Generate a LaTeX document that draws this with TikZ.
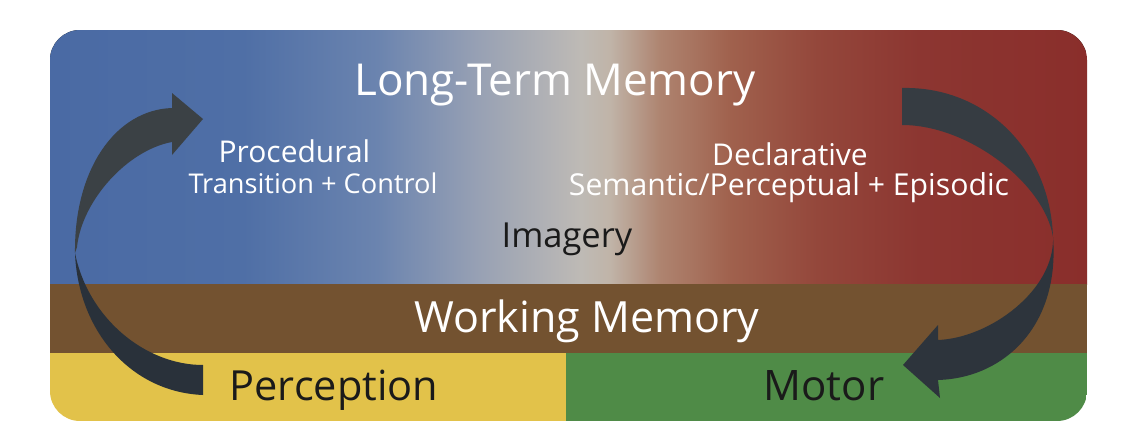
\documentclass[tikz,border=0pt]{standalone}
\usepackage{fontspec}
\setmainfont{Open Sans}
\definecolor{cB}{HTML}{4A6AA4}
\definecolor{cB2}{HTML}{4F6FA6}
\definecolor{cB3}{HTML}{6B84AF}
\definecolor{cB4}{HTML}{98A1B4}
\definecolor{cG}{HTML}{BEBAB5}
\definecolor{cG2}{HTML}{C0B4A8}
\definecolor{cR1}{HTML}{AE8470}
\definecolor{cR2}{HTML}{A0614D}
\definecolor{cR3}{HTML}{94473B}
\definecolor{cR4}{HTML}{8C3631}
\definecolor{cR}{HTML}{8A2E2B}
\definecolor{wmbrown}{HTML}{735230}
\definecolor{percy}{HTML}{E2C24A}
\definecolor{motg}{HTML}{4F8B47}
\definecolor{arrA}{HTML}{3B4145}
\definecolor{arrB}{HTML}{29313A}
\definecolor{txtdark}{HTML}{1A1A1A}
\pgfdeclarehorizontalshading{ltm}{100bp}{color(0bp)=(cB); color(25bp)=(cB); color(34.3bp)=(cB2); color(40.8bp)=(cB3); color(45.7bp)=(cB4); color(50.6bp)=(cG); color(52bp)=(cG2); color(54.4bp)=(cR1); color(57.8bp)=(cR2); color(62bp)=(cR3); color(66.9bp)=(cR4); color(75bp)=(cR); color(100bp)=(cR)}
\tikzset{
  lbl/.style={inner sep=0pt, anchor=base},
  fs/.style={font=\fontsize{#1}{#1}\selectfont},
}
\begin{document}
\begin{tikzpicture}[x=1pt,y=-1pt]
\fill[white] (0,0) rectangle (1136,447);
\useasboundingbox (0,0) rectangle (1136,447);
\begin{scope}
\clip[rounded corners=30pt] (50,30) rectangle (1087,421);
\fill[shading=ltm] (50,30) rectangle (1087,284.5);
\fill[wmbrown] (50,284) rectangle (1087,353);
\fill[percy] (50,353) rectangle (566,421);
\fill[motg] (566,353) rectangle (1087,421);
\end{scope}
% texts
\node[lbl, white, fs=44] (ltm) at (555,95) {Long-Term Memory};
\node[lbl, white, fs=30] (proc) at (294.5,162) {Procedural};
\node[lbl, white, fs=27.2] (trans) at (313,193) {Transition + Control};
\node[lbl, white, fs=30] (decl) at (790,165) {Declarative};
\node[lbl, white, fs=30.2] (sem) at (789,195) {Semantic/Perceptual + Episodic};
\node[lbl, txtdark, fs=34.5] (img) at (567,247) {Imagery};
\node[lbl, white, fs=43] (wm) at (587,332) {Working Memory};
\node[lbl, txtdark, fs=41.5] (perc) at (334,400) {Perception};
\node[lbl, txtdark, fs=42] (mot) at (824,400) {Motor};
% left arrow, upper part with head
\fill[arrA] (75,253) .. controls (74,170) and (115,110) .. (172,108)
  -- (172,93) -- (203,119) -- (172,155) -- (172,142)
  .. controls (128,150) and (82,200) .. (77,247) -- cycle;
% left arrow, lower part with tail
\fill[arrB] (75,253) .. controls (78,330) and (130,392) .. (203,395)
  -- (203,365) .. controls (145,365) and (88,318) .. (75,253) -- cycle;
% right arrow, upper part with tail
\fill[arrA!70!arrB] (902,88) .. controls (985,86) and (1050,150) .. (1053,237)
  .. controls (1045,185) and (970,125) .. (902,125) -- cycle;
% right arrow, lower part with head
\fill[arrB!80!arrA] (1053,237) .. controls (1055,290) and (990,338) .. (938,340)
  -- (938,325) -- (903,365) -- (940,398) -- (938,380)
  .. controls (1005,378) and (1060,325) .. (1053,237) -- cycle;
\end{tikzpicture}
\end{document}
